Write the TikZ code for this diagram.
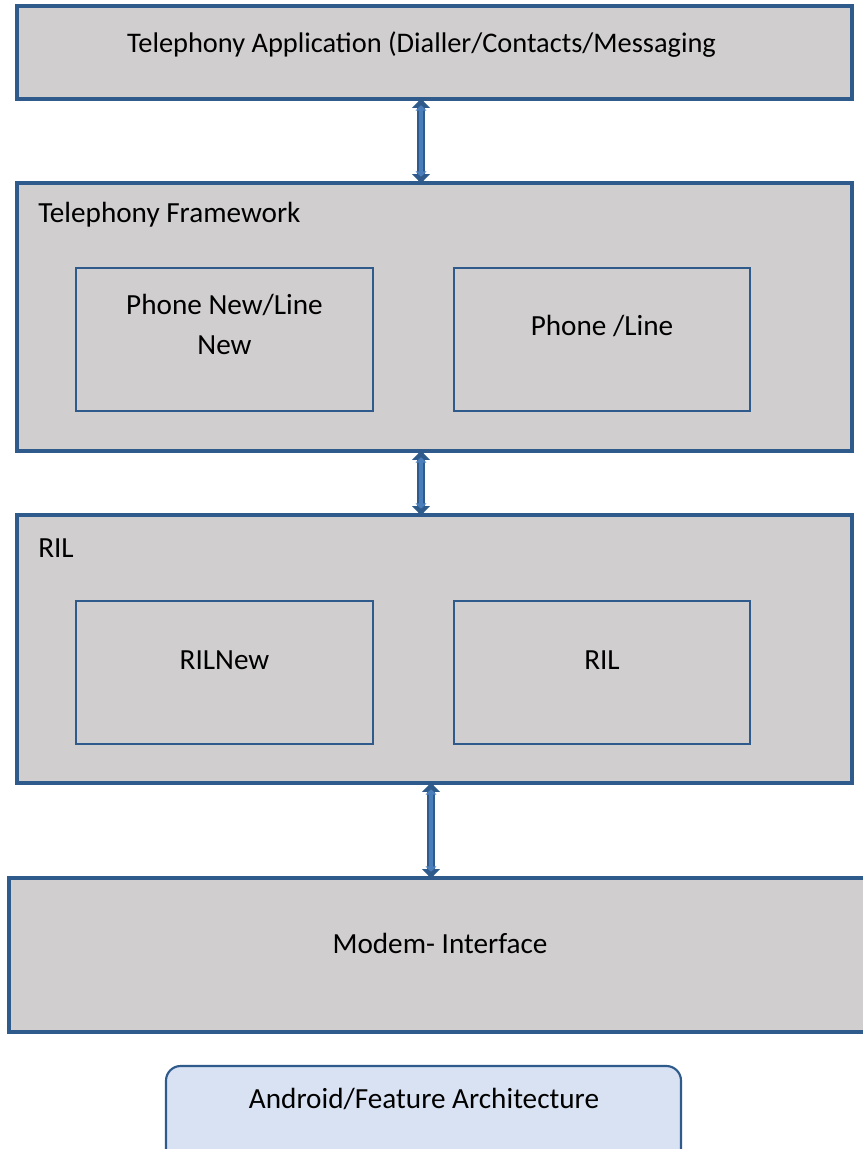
\documentclass[tikz,border=0pt]{standalone}
\usepackage{fontspec}
\setmainfont{Carlito}
\usetikzlibrary{fit,calc,arrows.meta}
\definecolor{edgeblue}{HTML}{2F5B8C}
\definecolor{boxgray}{HTML}{D0CECE}
\definecolor{notefill}{HTML}{D9E2F3}
\definecolor{arrowfill}{HTML}{4A7EBB}
\tikzset{
  layer/.style={draw=edgeblue, fill=boxgray, line width=2.4pt, inner sep=0pt},
  module/.style={draw=edgeblue, fill=boxgray, line width=1.6pt, inner sep=0pt},
  note/.style={draw=edgeblue, fill=notefill, line width=1.6pt, inner sep=0pt, rounded corners=11pt},
  txt/.style={inner sep=0pt, font=\fontsize{21.9pt}{30pt}\selectfont, align=center},
  linkout/.style={draw=edgeblue, line width=6pt,
    {Triangle[width=13pt,length=7pt]}-{Triangle[width=13pt,length=7pt]}},
  linkin/.style={draw=arrowfill, line width=2.6pt, shorten <=5pt, shorten >=5pt,
    {Triangle[width=8pt,length=4pt]}-{Triangle[width=8pt,length=4pt]}},
}
\begin{document}
\begin{tikzpicture}[x=0.75pt,y=-0.75pt]
\useasboundingbox (0,0) rectangle (863,1149);
\clip (0,0) rectangle (863,1149);
\fill[white] (0,0) rectangle (863,1149);

% application layer
\node[layer, fit={(17,6) (852,99)}] (app) {};
\node[txt] (applbl) at ($(app.center)+(-13,-8)$) {\fontsize{21.3pt}{30pt}\selectfont Telephony Application (Dialler/Contacts/Messaging};

% telephony framework
\node[layer, fit={(17,183) (852,451)}] (fw) {};
\node[txt, anchor=west] (fwlbl) at (38,215) {Telephony Framework};
\node[module, fit={(76,268) (373,411)}] (phnew) {};
\node[txt] (phnewlbl) at ($(phnew.center)+(0,-15)$) {Phone New/Line\\New};
\node[module, fit={(454,268) (750,411)}] (ph) {};
\node[txt] (phlbl) at ($(ph.center)+(0,-14)$) {Phone /Line};

% radio interface layer
\node[layer, fit={(17,515) (852,783)}] (ril) {};
\node[txt, anchor=west] (rillbl) at (38,548) {RIL};
\node[module, fit={(76,601) (373,744)}] (rilnew) {};
\node[txt] (rilnewlbl) at ($(rilnew.center)+(0,-12)$) {RILNew};
\node[module, fit={(454,601) (750,744)}] (rilold) {};
\node[txt] (riloldlbl) at ($(rilold.center)+(0,-12)$) {RIL};

% modem
\node[layer, fit={(9,878) (875,1032)}] (modem) {};
\node[txt] (modemlbl) at (440,943) {Modem- Interface};

% caption box
\node[note, fit={(166,1066) (681,1165)}] (cap) {};
\node[txt] (caplbl) at (424,1099) {Android/Feature Architecture};

% vertical links between layers
\foreach \a/\b/\dx in {app/fw/-13.5, fw/ril/-13.5, ril/modem/-3.5} {
  \coordinate (from) at ($(\a.south)+(\dx,-2)$);
  \coordinate (to) at ($(from |- \b.north)+(0,2)$);
  \draw[linkout] (from) -- (to);
  \draw[linkin] (from) -- (to);
}
\end{tikzpicture}
\end{document}
